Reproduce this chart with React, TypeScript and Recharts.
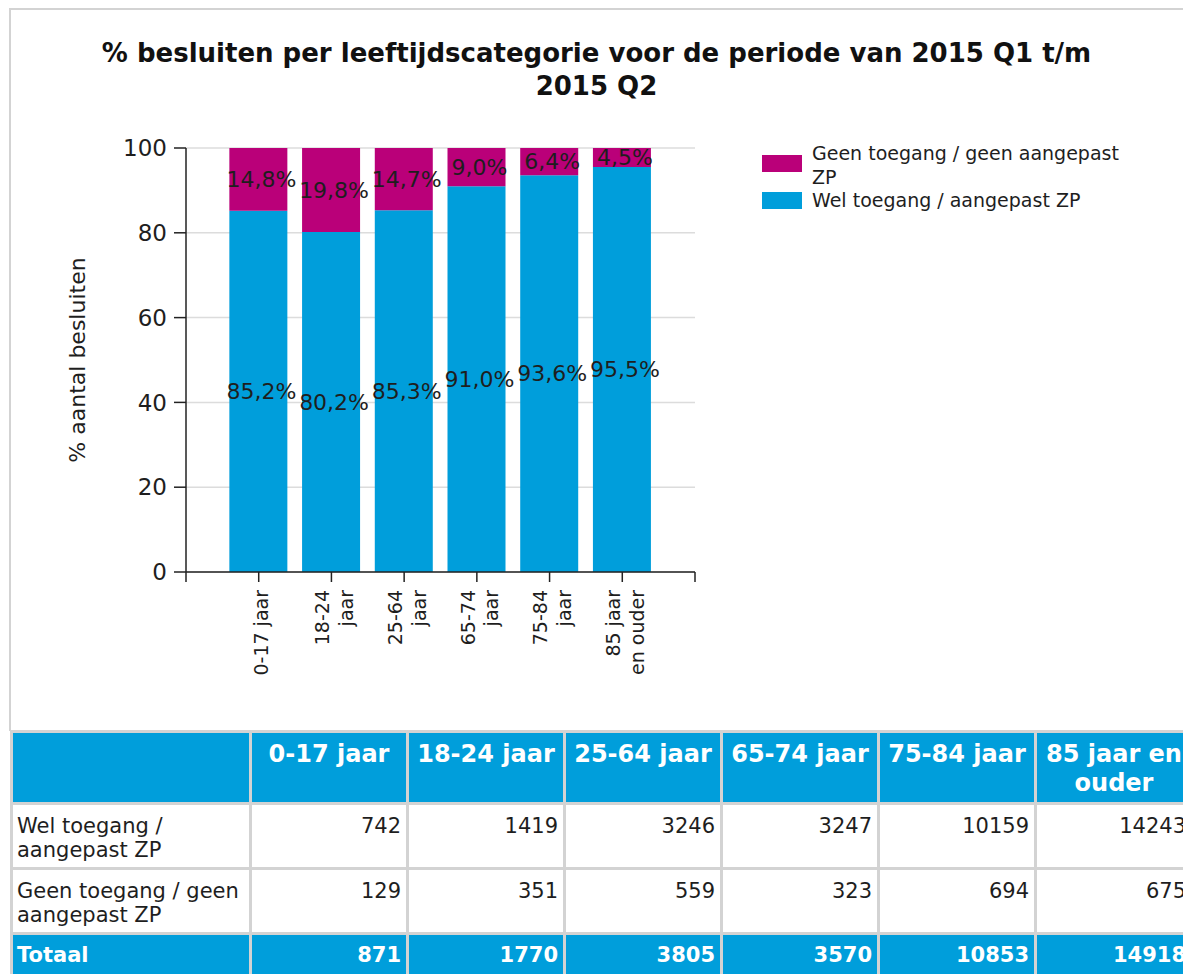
import React from 'react';
import { BarChart, Bar, XAxis, YAxis, CartesianGrid, Legend, LabelList } from 'recharts';

const categories = ['0-17 jaar', '18-24 jaar', '25-64 jaar', '65-74 jaar', '75-84 jaar', '85 jaar en ouder'];
const xTickLines = [['0-17 jaar'], ['18-24', 'jaar'], ['25-64', 'jaar'], ['65-74', 'jaar'], ['75-84', 'jaar'], ['85 jaar', 'en ouder']];
const welPct = [85.2, 80.2, 85.3, 91.0, 93.6, 95.5];
const geenPct = [14.8, 19.8, 14.7, 9.0, 6.4, 4.5];
const welCount = [742, 1419, 3246, 3247, 10159, 14243];
const geenCount = [129, 351, 559, 323, 694, 675];
const totalCount = [871, 1770, 3805, 3570, 10853, 14918];
const yTicks = [0, 20, 40, 60, 80, 100];
const xTicks = [0, 1, 2, 3, 4, 5, 6, 7];

const SERIES_WEL = 'Wel toegang / aangepast ZP';
const SERIES_GEEN = 'Geen toegang / geen aangepast ZP';
const legendOrder = [SERIES_GEEN, SERIES_WEL];
const ROW_WEL = 'Wel toegang / aangepast ZP';
const ROW_GEEN = 'Geen toegang / geen aangepast ZP';
const ROW_TOTAL = 'Totaal';
const TITLE_1 = '% besluiten per leeftijdscategorie voor de periode van 2015 Q1 t/m';
const TITLE_2 = '2015 Q2';
const Y_LABEL = '% aantal besluiten';

const BLUE = '#009EDB';
const MAGENTA = '#BA0079';
const FONT = '"DejaVu Sans", Verdana, sans-serif';
const TEXT = '#1e1e1e';

const data = categories.map((c, i) => ({ pos: i + 1, name: c, wel: welPct[i], geen: geenPct[i] }));

const fmt = (v: number) => v.toFixed(1).replace('.', ',') + '%';

const XTick = (props: any) => {
  const { x, y, payload } = props;
  const lines = xTickLines[Number(payload.value) - 1];
  if (!lines) return null;
  const lh = 24;
  const n = lines.length;
  return (
    <g transform={`translate(${x + 3},${y + 6}) rotate(-90)`}>
      {lines.map((l, i) => (
        <text key={i} x={0} y={(i - (n - 1) / 2) * lh} dy="0.35em" textAnchor="end" fontSize={19} fill={TEXT} fontFamily={FONT}>
          {l}
        </text>
      ))}
    </g>
  );
};

const renderLabel = (props: any) => {
  const vb = props.viewBox || props;
  const x = vb.x ?? props.x;
  const y = vb.y ?? props.y;
  const w = vb.width ?? props.width;
  const h = vb.height ?? props.height;
  return (
    <text x={x + w / 2 + 3} y={y + h / 2} dy="0.35em" textAnchor="middle" fontSize={22} fill={TEXT} fontFamily={FONT}>
      {fmt(Number(props.value))}
    </text>
  );
};

const renderLegend = (props: any) => {
  const items = [...(props.payload || [])].sort(
    (a: any, b: any) => legendOrder.indexOf(a.value) - legendOrder.indexOf(b.value)
  );
  return (
    <div style={{ fontFamily: FONT, fontSize: 19, color: TEXT, display: 'flex', flexDirection: 'column' }}>
      {items.map((it: any, i: number) => (
        <div key={i} style={{ display: 'flex', alignItems: 'center', marginTop: i === 0 ? 0 : -1 }}>
          <div style={{ width: 40, height: 17, background: it.color, marginRight: 10, flexShrink: 0, marginTop: i === 0 ? -4 : 0 }} />
          <div style={{ maxWidth: 320, lineHeight: '24px', textAlign: 'left' }}>{it.value}</div>
        </div>
      ))}
    </div>
  );
};

const thBase: React.CSSProperties = {
  background: BLUE,
  color: '#fff',
  fontWeight: 'bold',
  boxSizing: 'border-box',
  padding: 0,
};

export default function App() {
  return (
    <div style={{ position: 'absolute', left: 0, top: 0, width: 1183, height: 974, overflow: 'hidden', background: '#fff' }}>
      <div
        style={{
          position: 'absolute',
          left: 9,
          top: 8,
          width: 1300,
          height: 723,
          boxSizing: 'border-box',
          borderTop: '2px solid #d3d3d3',
          borderLeft: '2px solid #d3d3d3',
          background: '#fff',
        }}
      />
      <div
        style={{
          position: 'absolute',
          left: 0,
          top: 37,
          width: 1193,
          textAlign: 'center',
          fontFamily: FONT,
          fontWeight: 'bold',
          fontSize: 26,
          lineHeight: '33px',
          color: '#111',
        }}
      >
        <div>{TITLE_1}</div>
        <div>{TITLE_2}</div>
      </div>
      <div style={{ position: 'absolute', left: 0, top: 0 }}>
        <BarChart width={1183} height={725} data={data} margin={{ top: 148, right: 488, bottom: 33, left: 0 }}>
          <CartesianGrid vertical={false} stroke="#dcdcdc" strokeWidth={1.5} />
          <XAxis
            type="number"
            dataKey="pos"
            domain={[0, 7]}
            ticks={xTicks}
            interval={0}
            height={120}
            tick={<XTick />}
            tickSize={10}
            tickMargin={2}
            axisLine={{ stroke: '#222', strokeWidth: 1.5 }}
            tickLine={{ stroke: '#222', strokeWidth: 1.5 }}
            allowDecimals={false}
          />
          <YAxis
            type="number"
            domain={[0, 100]}
            ticks={yTicks}
            width={186}
            tickSize={12}
            tickMargin={7}
            tick={{ fontSize: 23, fill: TEXT, fontFamily: FONT }}
            axisLine={{ stroke: '#222', strokeWidth: 1.5 }}
            tickLine={{ stroke: '#222', strokeWidth: 1.5 }}
            label={{ value: Y_LABEL, angle: -90, position: 'center', dx: -16, fontSize: 22, fill: TEXT, fontFamily: FONT }}
          />
          <Legend
            layout="horizontal"
            align="center"
            verticalAlign="middle"
            content={renderLegend}
            wrapperStyle={{ left: 762, top: 141, width: 400, height: 80 }}
          />
          <Bar dataKey="wel" name={SERIES_WEL} stackId="a" fill={BLUE} barSize={58} isAnimationActive={false}>
            <LabelList dataKey="wel" content={renderLabel} />
          </Bar>
          <Bar dataKey="geen" name={SERIES_GEEN} stackId="a" fill={MAGENTA} barSize={58} isAnimationActive={false}>
            <LabelList dataKey="geen" content={renderLabel} />
          </Bar>
        </BarChart>
      </div>
      <table
        style={{
          position: 'absolute',
          left: 10,
          top: 730,
          borderCollapse: 'separate',
          borderSpacing: 3,
          background: '#d3d3d3',
          fontFamily: FONT,
          tableLayout: 'fixed',
          width: 1184,
        }}
      >
        <tbody>
          <tr>
            <th style={{ ...thBase, width: 236, height: 69 }} />
            {categories.map((c, i) => (
              <th
                key={i}
                style={{ ...thBase, width: 154, height: 69, fontSize: 24, lineHeight: '29px', textAlign: 'center', verticalAlign: 'top', paddingTop: 7 }}
              >
                {c}
              </th>
            ))}
          </tr>
          {[
            { label: ROW_WEL, vals: welCount },
            { label: ROW_GEEN, vals: geenCount },
          ].map((row, r) => (
            <tr key={r}>
              <td style={{ background: '#fff', color: TEXT, fontSize: 21, lineHeight: '24px', height: 62, boxSizing: 'border-box', verticalAlign: 'top', padding: '9px 4px 0 4px', textAlign: 'left' }}>
                {row.label}
              </td>
              {row.vals.map((v, i) => (
                <td key={i} style={{ background: '#fff', color: TEXT, fontSize: 21, lineHeight: '24px', height: 62, boxSizing: 'border-box', verticalAlign: 'top', padding: '9px 5px 0 4px', textAlign: 'right' }}>
                  {v}
                </td>
              ))}
            </tr>
          ))}
          <tr>
            <td style={{ ...thBase, fontSize: 21, lineHeight: '24px', height: 44, verticalAlign: 'top', padding: '8px 4px 0 4px', textAlign: 'left' }}>{ROW_TOTAL}</td>
            {totalCount.map((v, i) => (
              <td key={i} style={{ ...thBase, fontSize: 21, lineHeight: '24px', height: 44, verticalAlign: 'top', padding: '8px 5px 0 4px', textAlign: 'right' }}>
                {v}
              </td>
            ))}
          </tr>
        </tbody>
      </table>
    </div>
  );
}
